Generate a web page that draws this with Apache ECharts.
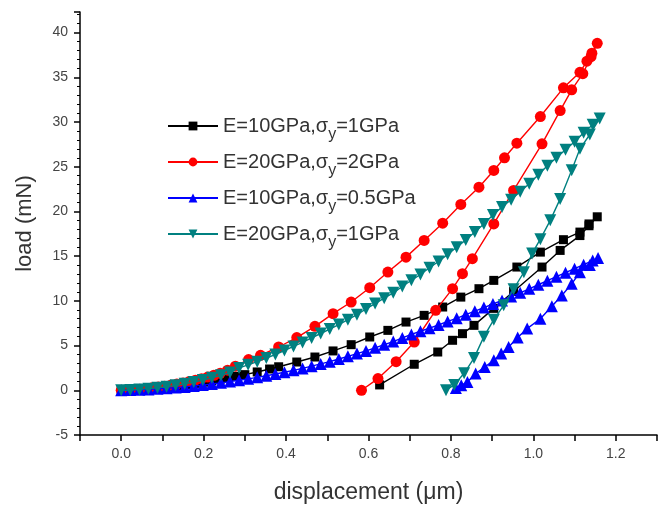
<!DOCTYPE html>
<html><head><meta charset="utf-8">
<script src="https://cdn.jsdelivr.net/npm/echarts@6/dist/echarts.min.js"></script>
<style>html,body{margin:0;padding:0;background:#fff}#c{width:660px;height:510px}</style>
</head><body><div id="c"></div>
<script>
// ---- data (displacement µm, load mN) ----
const legendE = ['10', '20', '10', '20'];
const legendSigma = ['1', '2', '0.5', '1'];
const seriesNames = ['E=10GPa,σy=1GPa', 'E=20GPa,σy=2GPa', 'E=10GPa,σy=0.5GPa', 'E=20GPa,σy=1GPa'];

const blackLoad = [[0,0],[0.02,0.04],[0.04,0.10],[0.06,0.17],[0.08,0.24],[0.10,0.33],[0.12,0.42],[0.14,0.53],[0.16,0.65],[0.18,0.77],[0.20,0.91],[0.22,1.06],[0.24,1.22],[0.26,1.38],[0.28,1.56],[0.30,1.75],[0.33,2.05],[0.36,2.38],[0.382,2.63],[0.426,3.16],[0.470,3.72],[0.514,4.40],[0.558,5.10],[0.603,5.96],[0.647,6.70],[0.691,7.63],[0.735,8.38],[0.780,9.31],[0.824,10.42],[0.868,11.36],[0.904,12.29],[0.960,13.78],[1.017,15.45],[1.073,16.84],[1.113,17.69],[1.135,18.6],[1.155,19.4]];
const blackUnload = [[1.135,18.4],[1.113,17.3],[1.065,15.64],[1.021,13.78],[0.952,11.05],[0.904,9.16],[0.856,7.26],[0.828,6.33],[0.804,5.59],[0.768,4.28],[0.711,2.91],[0.627,0.6]];

const redLoad = [[0,0],[0.015,0.02],[0.03,0.06],[0.045,0.12],[0.06,0.19],[0.075,0.27],[0.09,0.36],[0.105,0.46],[0.12,0.57],[0.135,0.69],[0.15,0.82],[0.165,0.97],[0.18,1.13],[0.195,1.30],[0.21,1.48],[0.225,1.68],[0.24,1.90],[0.258,2.25],[0.277,2.70],[0.309,3.43],[0.338,3.91],[0.382,4.84],[0.426,5.89],[0.470,7.15],[0.514,8.57],[0.558,9.87],[0.603,11.47],[0.647,13.22],[0.691,14.89],[0.735,16.76],[0.780,18.69],[0.824,20.78],[0.868,22.71],[0.904,24.58],[0.930,26.0],[0.960,27.63],[1.017,30.61],[1.073,33.82],[1.113,35.56],[1.130,36.8],[1.142,37.7],[1.155,38.8]];
const redUnload = [[1.140,37.3],[1.120,35.4],[1.093,33.6],[1.065,31.28],[1.021,27.56],[0.952,22.35],[0.904,18.6],[0.852,14.72],[0.828,13.04],[0.804,11.36],[0.763,8.94],[0.711,5.40],[0.667,3.2],[0.623,1.31],[0.583,0]];

const blueLoad = [[0,0],[0.022,0.02],[0.044,0.06],[0.066,0.10],[0.088,0.16],[0.11,0.22],[0.132,0.30],[0.154,0.38],[0.176,0.48],[0.198,0.58],[0.22,0.70],[0.242,0.83],[0.264,0.97],[0.286,1.12],[0.308,1.28],[0.33,1.45],[0.352,1.63],[0.374,1.82],[0.396,2.02],[0.418,2.23],[0.44,2.45],[0.462,2.70],[0.484,2.95],[0.506,3.20],[0.528,3.50],[0.55,3.80],[0.572,4.10],[0.594,4.40],[0.616,4.75],[0.638,5.10],[0.66,5.45],[0.682,5.85],[0.704,6.25],[0.726,6.60],[0.748,6.95],[0.77,7.30],[0.792,7.70],[0.814,8.05],[0.836,8.45],[0.858,8.85],[0.88,9.25],[0.902,9.65],[0.924,10.05],[0.946,10.5],[0.968,10.9],[0.99,11.35],[1.012,11.8],[1.034,12.25],[1.056,12.7],[1.078,13.15],[1.10,13.6],[1.122,14.05],[1.144,14.5],[1.157,14.8]];
const blueUnload = [[1.137,14.0],[1.113,13.2],[1.093,11.9],[1.069,10.6],[1.045,9.4],[1.017,8.0],[0.985,6.9],[0.962,5.9],[0.940,4.84],[0.922,4.1],[0.904,3.35],[0.882,2.6],[0.860,1.87],[0.840,0.93],[0.825,0.55],[0.812,0.25]];

const tealLoad = [[0,0],[0.022,0.04],[0.044,0.10],[0.066,0.18],[0.088,0.28],[0.11,0.40],[0.132,0.55],[0.154,0.72],[0.176,0.92],[0.198,1.15],[0.22,1.40],[0.242,1.68],[0.264,1.98],[0.286,2.50],[0.308,2.85],[0.33,3.20],[0.352,3.60],[0.374,4.00],[0.396,4.45],[0.418,4.90],[0.44,5.35],[0.462,5.85],[0.484,6.35],[0.506,6.85],[0.528,7.35],[0.55,7.90],[0.572,8.45],[0.594,9.1],[0.616,9.7],[0.638,10.3],[0.66,10.9],[0.682,11.6],[0.704,12.3],[0.726,12.95],[0.748,13.7],[0.77,14.4],[0.792,15.2],[0.814,16.0],[0.836,16.8],[0.858,17.7],[0.88,18.6],[0.902,19.6],[0.924,20.5],[0.946,21.3],[0.968,22.2],[0.99,23.1],[1.012,24.1],[1.034,25.1],[1.056,26.0],[1.078,26.9],[1.10,27.8],[1.122,28.8],[1.144,29.7],[1.161,30.4]];
const tealUnload = [[1.137,28.6],[1.113,27.0],[1.093,24.6],[1.065,21.4],[1.041,19.0],[1.017,16.9],[0.997,15.3],[0.977,13.2],[0.952,11.3],[0.928,9.5],[0.904,7.9],[0.880,6.0],[0.856,3.6],[0.832,1.9],[0.808,0.6],[0.788,0.0]];

const colors = ['#000000', '#ff0000', '#0000ff', '#008080'];
const symbols = ['rect', 'circle', 'triangle', 'triangle'];
const rotations = [0, 0, 0, 180];
const symbolSizes = [9, 11, 12, 12];
const allData = [blackLoad.concat(blackUnload), redLoad.concat(redUnload), blueLoad.concat(blueUnload), tealLoad.concat(tealUnload)];

const FONT = 'Liberation Sans';
const chart = echarts.init(document.getElementById('c'), null, {renderer: 'canvas'});

const series = seriesNames.map((n, i) => ({
  name: n, type: 'line', data: allData[i],
  symbol: symbols[i], symbolRotate: rotations[i], symbolSize: symbolSizes[i],
  showAllSymbol: true,
  lineStyle: {color: colors[i], width: 1.4},
  itemStyle: {color: colors[i]},
  z: 2 + i, animation: false
}));

chart.setOption({
  backgroundColor: '#fff',
  animation: false,
  grid: {left: 80, top: 12, width: 581, bottom: 75, containLabel: false},
  legend: {
    orient: 'vertical', left: 162, top: 111, itemGap: 9.5,
    itemWidth: 50, itemHeight: 11,
    data: seriesNames,
    formatter: function (name) {
      const i = seriesNames.indexOf(name);
      return '{a|E=' + legendE[i] + 'GPa,σ}{s|y}{a|=' + legendSigma[i] + 'GPa}';
    },
    textStyle: {
      fontFamily: FONT, color: '#333', fontSize: 20,
      rich: {
        a: {fontFamily: FONT, color: '#333', fontSize: 20},
        s: {fontFamily: FONT, color: '#333', fontSize: 16, padding: [17, 0, 0, 0]}
      }
    }
  },
  xAxis: {
    type: 'value', min: -0.1, max: 1.3, interval: 0.1,
    name: 'displacement (μm)', nameLocation: 'middle', nameGap: 46,
    nameTextStyle: {fontFamily: FONT, fontSize: 23, color: '#333'},
    axisLine: {onZero: false, lineStyle: {color: '#000', width: 1.5}},
    axisTick: {show: true, inside: false, length: 6, lineStyle: {color: '#000', width: 1.5}},
    splitLine: {show: false},
    axisLabel: {
      fontFamily: FONT, fontSize: 14, color: '#444', margin: 12,
      formatter: function (v) {
        const k = Math.round(v * 10);
        return (k >= 0 && k <= 12 && k % 2 === 0) ? (k / 10).toFixed(1) : '';
      }
    }
  },
  yAxis: {
    type: 'value', min: -5, max: 42.3, interval: 5,
    name: 'load (mN)', nameLocation: 'middle', nameGap: 44,
    nameTextStyle: {fontFamily: FONT, fontSize: 22, color: '#333'},
    axisLine: {onZero: false, lineStyle: {color: '#000', width: 1.5}},
    axisTick: {show: true, inside: false, length: 6, lineStyle: {color: '#000', width: 1.5}},
    minorTick: {show: true, splitNumber: 5, length: 3, lineStyle: {color: '#000', width: 1}},
    splitLine: {show: false},
    axisLabel: {fontFamily: FONT, fontSize: 14, color: '#444', margin: 12, showMaxLabel: false}
  },
  series: series
});
</script></body></html>
